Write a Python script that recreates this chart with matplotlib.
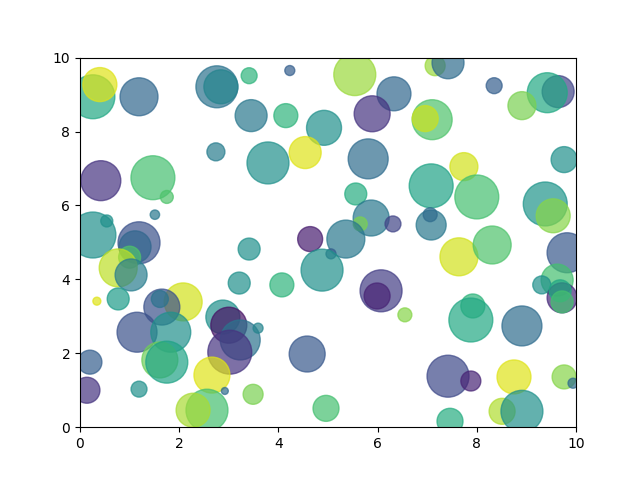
import numpy as np
import matplotlib
matplotlib.use('Agg')
import matplotlib.pyplot as plt

# bubble centres
x = [0.26, 0.40, 1.19, 2.76, 2.84, 3.41, 4.23, 5.54, 6.33, 5.89,
     3.45, 4.15, 4.92, 4.54, 3.79, 5.81, 5.56, 5.87, 5.65, 6.31,
     4.64, 5.36, 5.06, 4.88, 2.74, 0.42, 1.47, 1.75, 1.51, 0.26,
     0.54, 1.19, 1.11, 1.00, 0.77, 1.03, 0.34, 0.77, 2.08, 1.65,
     1.61, 1.15, 1.83, 1.61, 1.75, 2.88, 3.00, 3.23, 3.02, 2.66,
     0.20, 0.14, 1.19, 2.92, 3.49, 2.56, 2.28, 3.41, 3.21, 4.07,
     6.07, 5.99, 6.55, 3.59, 4.58, 4.96, 7.16, 7.42, 8.35, 9.64,
     9.42, 8.91, 7.10, 6.96, 9.76, 7.74, 7.08, 8.00, 9.38, 9.54,
     7.08, 7.06, 7.64, 8.31, 9.82, 9.62, 9.31, 9.72, 9.68, 9.72,
     7.92, 7.88, 8.91, 7.42, 7.88, 8.75, 9.76, 9.94, 8.51, 8.91,
     7.46]
y = [8.94, 9.27, 8.94, 9.21, 9.21, 9.51, 9.65, 9.54, 9.02, 8.48,
     8.43, 8.43, 8.10, 7.43, 7.15, 7.26, 6.31, 5.66, 5.50, 5.50,
     5.09, 5.09, 4.69, 4.25, 7.45, 6.67, 6.75, 6.23, 5.75, 5.20,
     5.58, 4.99, 4.88, 4.60, 4.31, 4.12, 3.41, 3.47, 3.39, 3.25,
     3.47, 2.57, 2.57, 1.82, 1.76, 2.98, 2.76, 2.36, 2.03, 1.41,
     1.76, 1.00, 1.03, 0.98, 0.89, 0.46, 0.46, 4.82, 3.90, 3.85,
     3.69, 3.55, 3.04, 2.68, 1.98, 0.51, 9.78, 9.86, 9.24, 9.08,
     9.05, 8.70, 8.32, 8.35, 7.24, 7.05, 6.53, 6.23, 6.04, 5.72,
     5.47, 5.75, 4.61, 4.93, 4.72, 3.98, 3.85, 3.50, 3.69, 3.39,
     3.28, 2.90, 2.74, 1.38, 1.25, 1.36, 1.36, 1.19, 0.43, 0.43,
     0.16]
sizes = [1000, 600, 747, 913, 598, 132, 52, 913, 598, 671,
         530, 298, 634, 530, 913, 828, 250, 671, 101, 132,
         323, 747, 52, 913, 168, 828, 1000, 87, 46, 1095,
         75, 913, 530, 250, 747, 530, 33, 250, 747, 671,
         150, 828, 828, 671, 913, 598, 671, 828, 1000, 671,
         298, 350, 132, 25, 207, 913, 598, 250, 250, 298,
         913, 350, 101, 52, 671, 350, 207, 530, 132, 530,
         828, 406, 828, 350, 350, 406, 1000, 1000, 1000, 598,
         466, 101, 747, 747, 828, 530, 168, 466, 250, 250,
         298, 1000, 828, 913, 207, 598, 298, 52, 350, 913,
         350]
colors = [0.60, 0.95, 0.33, 0.38, 0.45, 0.65, 0.30, 0.85, 0.33, 0.15,
          0.40, 0.65, 0.50, 0.95, 0.50, 0.35, 0.62, 0.40, 0.80, 0.20,
          0.08, 0.40, 0.30, 0.50, 0.42, 0.15, 0.70, 0.72, 0.40, 0.50,
          0.50, 0.25, 0.33, 0.72, 0.90, 0.42, 0.95, 0.55, 0.93, 0.25,
          0.38, 0.25, 0.50, 0.78, 0.58, 0.50, 0.05, 0.38, 0.15, 0.95,
          0.30, 0.15, 0.50, 0.35, 0.80, 0.70, 0.87, 0.50, 0.50, 0.65,
          0.18, 0.10, 0.82, 0.45, 0.27, 0.70, 0.85, 0.35, 0.30, 0.20,
          0.60, 0.80, 0.72, 0.92, 0.50, 0.93, 0.58, 0.70, 0.52, 0.82,
          0.40, 0.35, 0.93, 0.72, 0.27, 0.70, 0.50, 0.12, 0.60, 0.70,
          0.65, 0.60, 0.35, 0.22, 0.10, 0.95, 0.82, 0.35, 0.88, 0.50,
          0.62]

fig, ax = plt.subplots(figsize=(6.4, 4.8), dpi=100)
ax.scatter(x, y, s=sizes, c=colors, cmap='viridis', vmin=0, vmax=1, alpha=0.7)
ax.set_xlim(0, 10)
ax.set_ylim(0, 10)

plt.savefig('out.png')
